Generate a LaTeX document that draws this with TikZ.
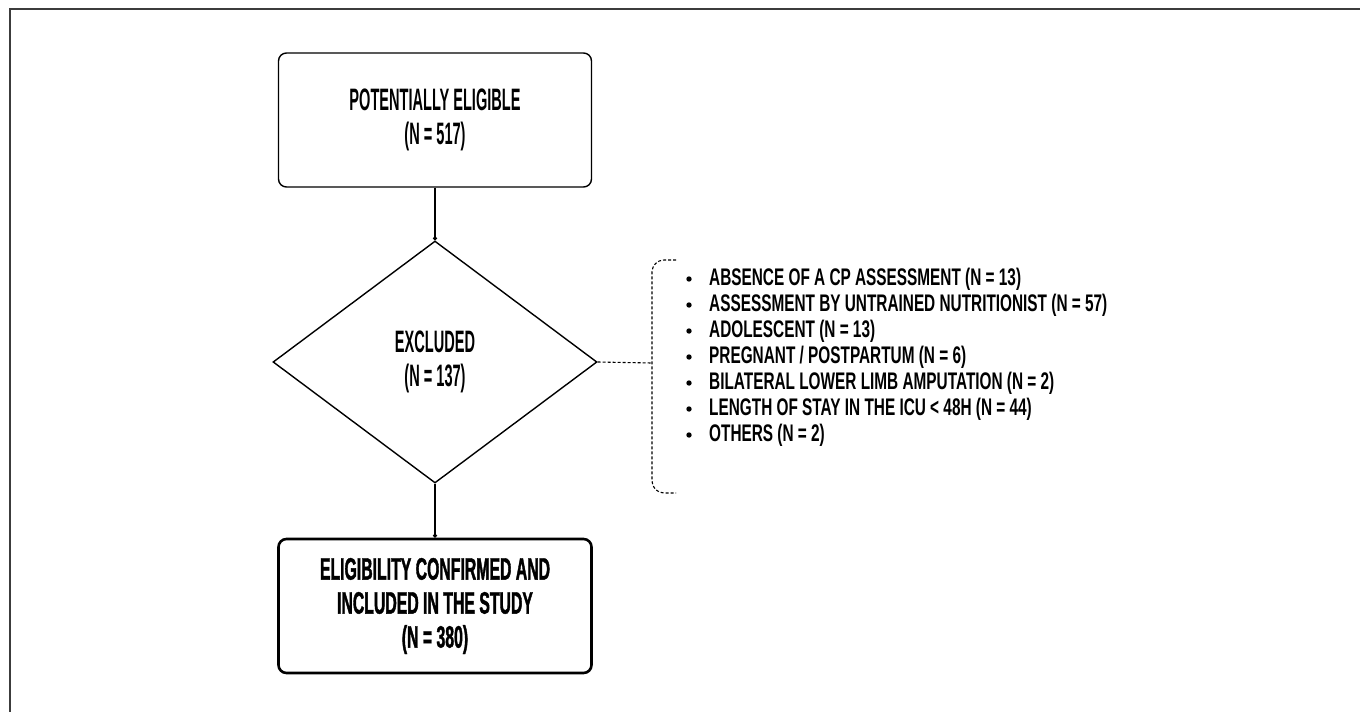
\documentclass[tikz,border=0pt]{standalone}
\usepackage{fontspec}
\setmainfont{Liberation Sans}[FakeStretch=0.47]
\newfontfamily\heavyfont{Liberation Sans}[FakeStretch=0.51, FakeBold=1.2]
\newfontfamily\listfont{Liberation Sans}[FakeStretch=0.64]
\usetikzlibrary{arrows.meta, positioning, shapes.geometric}
\definecolor{framegray}{RGB}{60,60,60}

\begin{document}
\begin{tikzpicture}[x=1pt, y=-1pt,
    flowbox/.style={draw, rounded corners=8pt, line width=1.4pt, minimum width=313pt, minimum height=134pt, align=center, font=\bfseries\fontsize{31}{34}\selectfont},
    flowarrow/.style={-{Circle[length=4pt]}, line width=1.2pt},
    itemtext/.style={anchor=west, inner sep=0pt, font=\listfont\bfseries\fontsize{24}{26}\selectfont}]
    \useasboundingbox (0,0) rectangle (1360,712);
    \draw[framegray, line width=2pt] (10,712) -- (10,9) -- (1360,9);

    \node[flowbox] (eligible) at (435,120) {POTENTIALLY ELIGIBLE\\(N = 517)};

    \node[draw, diamond, line width=1.4pt, minimum width=324pt, minimum height=242pt, inner sep=0pt, align=center, font=\bfseries\fontsize{31}{34}\selectfont] (excluded) at (435,362) {EXCLUDED\\(N = 137)};

    \node[flowbox, line width=2.6pt, font=\heavyfont\bfseries\fontsize{31}{34}\selectfont] (included) at (435,606) {ELIGIBILITY CONFIRMED AND\\INCLUDED IN THE STUDY\\(N = 380)};

    \draw[flowarrow] (eligible.south) -- (excluded.north);
    \draw[flowarrow] (excluded.south) -- (included.north);

    % dashed bracket with the reasons
    \coordinate (brace) at (652,363);
    \draw[dash pattern=on 3pt off 2pt, line width=1.1pt] (excluded.east) -- (brace);
    \draw[dash pattern=on 3pt off 2pt, line width=1.1pt, rounded corners=12pt] (676,260) -- (652,260) -- (652,493) -- (676,493);

    \foreach \txt [count=\i] in {ABSENCE OF A CP ASSESSMENT (N = 13),
        ASSESSMENT BY UNTRAINED NUTRITIONIST (N = 57),
        ADOLESCENT (N = 13),
        PREGNANT / POSTPARTUM (N = 6),
        BILATERAL LOWER LIMB AMPUTATION (N = 2),
        LENGTH OF STAY IN THE ICU < 48H (N = 44),
        OTHERS (N = 2)} {
        \fill (689,{253+26*\i}) circle (2.7pt);
        \node[itemtext] (reason\i) at (709,{253+26*\i}) {\txt};
    }
\end{tikzpicture}
\end{document}
